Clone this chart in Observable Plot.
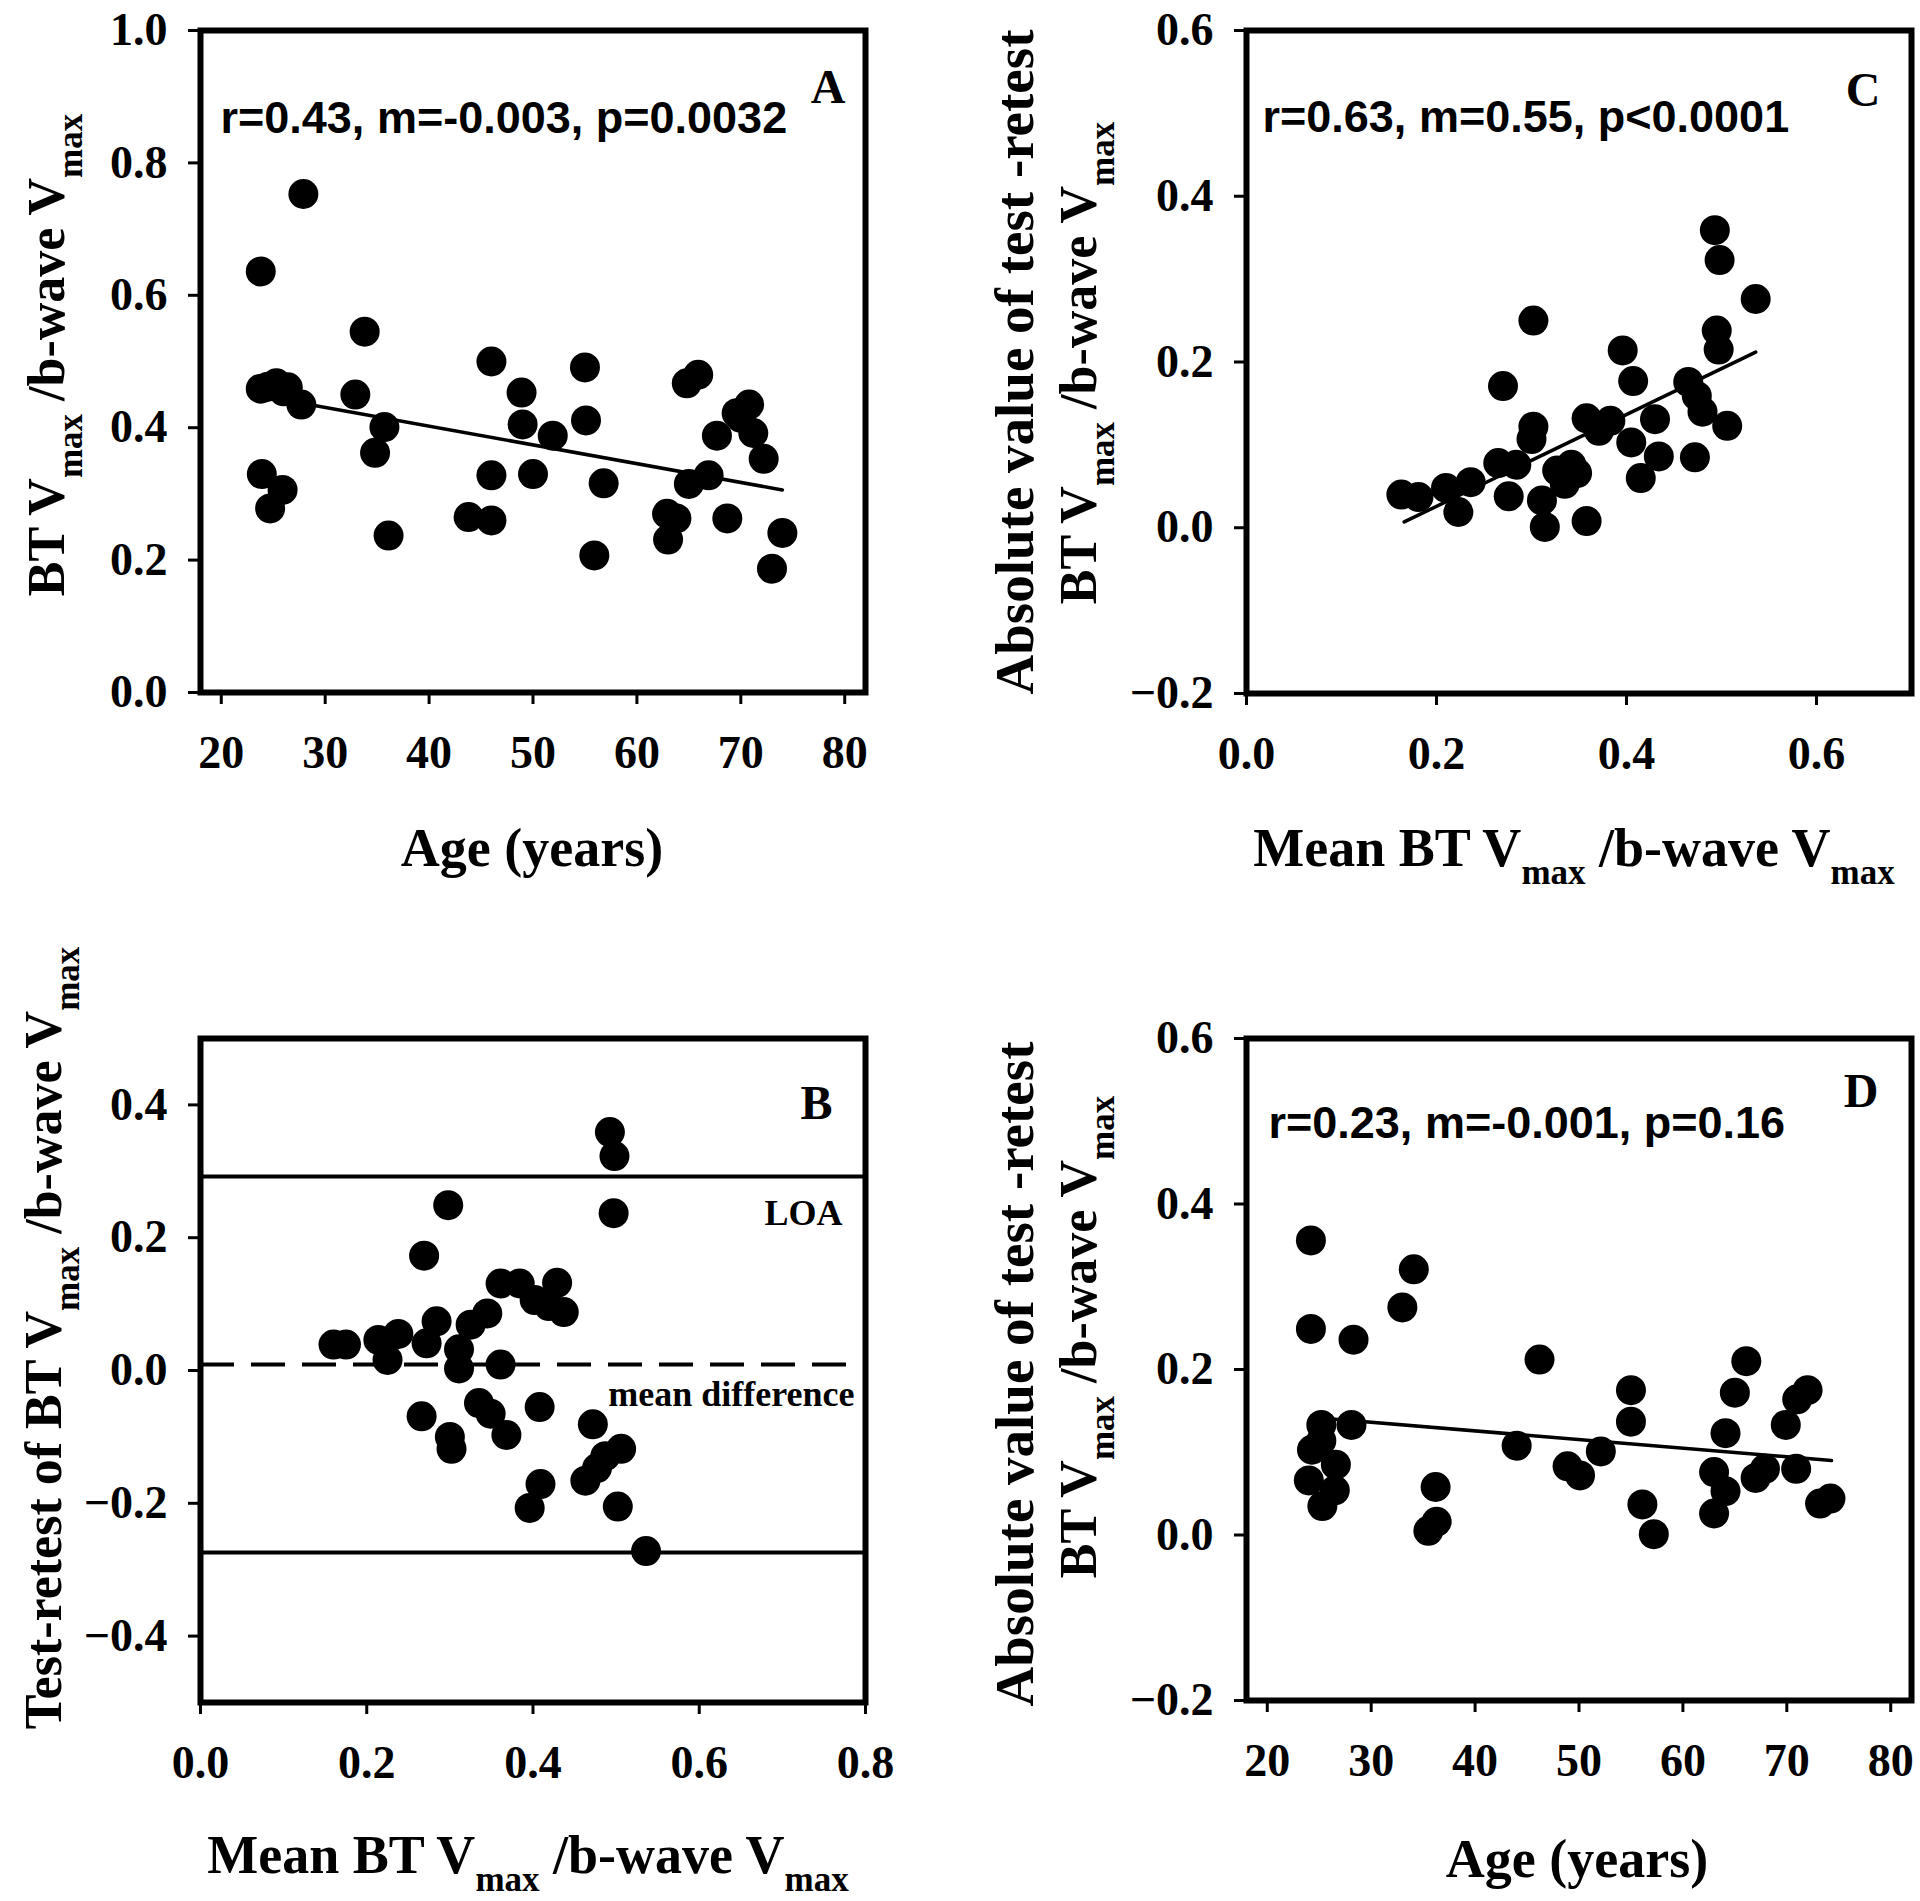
<!DOCTYPE html>
<html>
<head>
<meta charset="utf-8">
<script src="https://cdn.jsdelivr.net/npm/d3@7"></script>
<script src="https://cdn.jsdelivr.net/npm/@observablehq/plot@0.6"></script>
<style>
  html, body { margin: 0; padding: 0; background: #fff; }
  #root { position: relative; width: 1920px; height: 1901px; background: #fff; overflow: hidden; }
  .panel { position: absolute; }
  .panel svg { display: block; max-width: none !important; }
</style>
</head>
<body>
<div id="root"></div>
<script>
// ---------------- Panel A: ratio vs age ----------------
const ageA   = [23.8, 24.5, 27.9, 23.8, 25.3, 26.4, 26.0, 27.7, 23.9, 24.7, 25.9, 32.9, 33.8, 35.7, 34.8, 36.1, 43.8, 46.0, 46.0, 46.0, 48.9, 49.0, 50.0, 51.9, 55.0, 55.1, 55.9, 56.8, 62.9, 63.0, 63.8, 64.8, 65.9, 65.0, 66.9, 67.7, 68.7, 69.6, 70.0, 70.8, 71.2, 72.2, 73.0, 74.0];
const ratioA = [0.636, 0.462, 0.753, 0.459, 0.467, 0.461, 0.455, 0.435, 0.330, 0.278, 0.306, 0.450, 0.545, 0.401, 0.362, 0.237, 0.265, 0.500, 0.328, 0.260, 0.453, 0.405, 0.330, 0.388, 0.491, 0.411, 0.207, 0.316, 0.270, 0.231, 0.263, 0.467, 0.480, 0.315, 0.328, 0.388, 0.263, 0.422, 0.415, 0.435, 0.392, 0.353, 0.187, 0.241];
const fitAx = [23.9, 74.0];
const fitAy = [0.448, 0.306];
const statsA = "r=0.43, m=-0.003, p=0.0032";

// ---------------- Panel C: |test-retest| vs mean ----------------
const meanC = [0.493, 0.498, 0.536, 0.302, 0.495, 0.497, 0.396, 0.270, 0.407, 0.465, 0.474, 0.480, 0.506, 0.472, 0.302, 0.300, 0.358, 0.371, 0.383, 0.430, 0.405, 0.434, 0.415, 0.265, 0.284, 0.276, 0.327, 0.342, 0.335, 0.348, 0.311, 0.314, 0.358, 0.163, 0.181, 0.210, 0.223, 0.236];
const absC  = [0.359, 0.323, 0.276, 0.250, 0.238, 0.215, 0.214, 0.171, 0.177, 0.176, 0.159, 0.140, 0.123, 0.085, 0.122, 0.107, 0.132, 0.117, 0.129, 0.131, 0.103, 0.086, 0.060, 0.078, 0.076, 0.038, 0.069, 0.076, 0.053, 0.066, 0.033, 0.001, 0.008, 0.040, 0.037, 0.048, 0.019, 0.055];
const fitCx = [0.166, 0.536];
const fitCy = [0.007, 0.212];
const statsC = "r=0.63, m=0.55, p<0.0001";

// ---------------- Panel B: Bland-Altman ----------------
const meanB = [0.4925, 0.498, 0.497, 0.298, 0.269, 0.361, 0.384, 0.429, 0.402, 0.419, 0.437, 0.345, 0.325, 0.284, 0.272, 0.238, 0.214, 0.225, 0.175, 0.160, 0.311, 0.311, 0.361, 0.266, 0.300, 0.302, 0.335, 0.349, 0.368, 0.408, 0.396, 0.409, 0.472, 0.463, 0.477, 0.487, 0.506, 0.502, 0.536];
const diffB = [0.359, 0.323, 0.237, 0.249, 0.173, 0.131, 0.131, 0.132, 0.106, 0.097, 0.088, 0.086, 0.069, 0.074, 0.041, 0.055, 0.046, 0.016, 0.039, 0.039, 0.032, 0.003, 0.009, -0.069, -0.100, -0.118, -0.049, -0.065, -0.097, -0.055, -0.207, -0.171, -0.081, -0.166, -0.147, -0.129, -0.118, -0.205, -0.272];
const loaB = [0.292, -0.274];
const meanDiffB = 0.009;
const meanDiffExtent = [0, 0.78];

// ---------------- Panel D: |test-retest| vs age ----------------
const ageD = [24.2, 24.2, 28.3, 33.0, 34.1, 46.2, 25.2, 24.3, 25.2, 28.1, 24.0, 26.6, 26.5, 25.3, 35.5, 36.3, 36.2, 44.0, 48.9, 50.1, 52.1, 55.0, 55.0, 56.1, 57.2, 63.0, 63.0, 64.1, 64.1, 65.0, 66.1, 67.0, 67.9, 69.9, 71.0, 72.0, 70.9, 73.2, 74.2];
const absD = [0.356, 0.249, 0.236, 0.275, 0.321, 0.212, 0.133, 0.103, 0.114, 0.133, 0.066, 0.085, 0.054, 0.035, 0.005, 0.016, 0.058, 0.108, 0.083, 0.072, 0.101, 0.175, 0.137, 0.037, 0.001, 0.076, 0.026, 0.053, 0.123, 0.172, 0.210, 0.069, 0.080, 0.133, 0.164, 0.175, 0.080, 0.038, 0.044];
const fitDx = [24.5, 74.3];
const fitDy = [0.142, 0.090];
const statsD = "r=0.23, m=-0.001, p=0.16";

// tick values
const ticksAge = [20, 30, 40, 50, 60, 70, 80];
const ticksRatioA = [0, 0.2, 0.4, 0.6, 0.8, 1.0];
const ticksMeanC = [0, 0.2, 0.4, 0.6];
const ticksAbs = [-0.2, 0, 0.2, 0.4, 0.6];
const ticksMeanB = [0, 0.2, 0.4, 0.6, 0.8];
const ticksDiffB = [-0.4, -0.2, 0, 0.2, 0.4];

// ---------------- helpers ----------------
const SERIF = "'Liberation Serif', 'Times New Roman', serif";
const SANS = "'Liberation Sans', Arial, sans-serif";
const f1 = d3.format(".1f");
const zip = (xs, ys) => xs.map((x, i) => ({x, y: ys[i]}));

function basePlot({width, height, margin, xDomain, yDomain, xTicks, yTicks, xFormat, marks}) {
  return Plot.plot({
    width, height,
    marginTop: margin[0], marginRight: margin[1], marginBottom: margin[2], marginLeft: margin[3],
    style: {fontFamily: SERIF, fontSize: "46px", fontWeight: "bold", background: "white", color: "black", overflow: "visible"},
    x: {domain: xDomain, ticks: xTicks, tickFormat: xFormat, tickSize: 12, tickPadding: 31, label: null},
    y: {domain: yDomain, ticks: yTicks, tickFormat: f1, tickSize: 12, tickPadding: 21, label: null},
    marks: [...marks, Plot.frame({stroke: "black", strokeWidth: 6})]
  });
}

function styleTicks(svg) {
  d3.select(svg).selectAll('g[aria-label$="axis tick"] path, g[aria-label="x-axis"] line, g[aria-label="y-axis"] line')
    .attr("stroke-width", 3).attr("stroke", "black");
}

// parts: [[text, isSub], ...]
function addTitle(svg, {x, y, rotate = false, size = 54, sub = 35, shift = 17, parts}) {
  const t = d3.select(svg).append("text")
    .attr("transform", `translate(${x},${y})` + (rotate ? " rotate(-90)" : ""))
    .attr("text-anchor", "middle")
    .attr("font-family", SERIF)
    .attr("font-weight", "bold")
    .attr("font-size", size)
    .attr("fill", "black");
  let shifted = false;
  for (const [s, isSub] of parts) {
    const ts = t.append("tspan").text(s).attr("font-size", isSub ? sub : size);
    if (isSub && !shifted) { ts.attr("dy", shift); shifted = true; }
    else if (!isSub && shifted) { ts.attr("dy", -shift); shifted = false; }
  }
}

const ratioParts = [["BT V", false], ["max", true], [" /b-wave V", false], ["max", true]];
const meanParts = [["Mean BT V", false], ["max", true], [" /b-wave V", false], ["max", true]];

function place(svg, left, top) {
  const div = document.createElement("div");
  div.className = "panel";
  div.style.left = left + "px";
  div.style.top = top + "px";
  div.appendChild(svg);
  document.getElementById("root").appendChild(div);
}

const statText = (s, dx, dy) => Plot.text([s], {text: d => d, frameAnchor: "top-left", textAnchor: "start", lineAnchor: "bottom", dx, dy, fontFamily: SANS, fontSize: 45, fontWeight: "bold", fill: "black"});
const letter = (s, dx, dy) => Plot.text([s], {text: d => d, frameAnchor: "top-right", textAnchor: "end", lineAnchor: "bottom", dx, dy, fontFamily: SERIF, fontSize: 48, fontWeight: "bold", fill: "black"});

// ---------------- Panel A ----------------
const svgA = basePlot({
  width: 960, height: 940, margin: [30, 95, 248, 200],
  xDomain: [18, 82], yDomain: [0, 1], xTicks: ticksAge, yTicks: ticksRatioA, xFormat: d3.format("d"),
  marks: [
    Plot.line(zip(fitAx, fitAy), {x: "x", y: "y", stroke: "black", strokeWidth: 3.5}),
    Plot.dot(zip(ageA, ratioA), {x: "x", y: "y", r: 15, fill: "black", stroke: "none"}),
    statText(statsA, 20, 102),
    letter("A", -20, 72)
  ]
});
styleTicks(svgA);
addTitle(svgA, {x: 64, y: 355, rotate: true, size: 52, sub: 35, shift: 18, parts: ratioParts});
addTitle(svgA, {x: 532, y: 866, size: 54, parts: [["Age (years)", false]]});
place(svgA, 0, 0);

// ---------------- Panel C ----------------
const svgC = basePlot({
  width: 960, height: 940, margin: [30, 9, 247, 286],
  xDomain: [0, 0.7], yDomain: [-0.2, 0.6], xTicks: ticksMeanC, yTicks: ticksAbs, xFormat: f1,
  marks: [
    Plot.line(zip(fitCx, fitCy), {x: "x", y: "y", stroke: "black", strokeWidth: 3.5}),
    Plot.dot(zip(meanC, absC), {x: "x", y: "y", r: 15, fill: "black", stroke: "none"}),
    statText(statsC, 16, 101),
    letter("C", -31, 75)
  ]
});
styleTicks(svgC);
addTitle(svgC, {x: 73, y: 362, rotate: true, size: 55, parts: [["Absolute value of test -retest", false]]});
addTitle(svgC, {x: 136, y: 363, rotate: true, size: 52, sub: 35, shift: 18, parts: ratioParts});
addTitle(svgC, {x: 614, y: 866, size: 54, sub: 35, shift: 18, parts: meanParts});
place(svgC, 960, 0);

// ---------------- Panel B ----------------
const svgB = basePlot({
  width: 960, height: 961, margin: [98, 95, 199, 200],
  xDomain: [0, 0.8], yDomain: [-0.5, 0.5], xTicks: ticksMeanB, yTicks: ticksDiffB, xFormat: f1,
  marks: [
    Plot.ruleY(loaB, {stroke: "black", strokeWidth: 4}),
    Plot.ruleY([meanDiffB], {x1: meanDiffExtent[0], x2: meanDiffExtent[1], stroke: "black", strokeWidth: 4, strokeDasharray: "34,17"}),
    Plot.dot(zip(meanB, diffB), {x: "x", y: "y", r: 15, fill: "black", stroke: "none"}),
    Plot.text(["LOA"], {text: d => d, frameAnchor: "top-right", textAnchor: "end", lineAnchor: "bottom", dx: -23, dy: 186, fontFamily: SERIF, fontSize: 36, fontWeight: "bold", fill: "black"}),
    Plot.text(["mean difference"], {text: d => d, frameAnchor: "top-right", textAnchor: "end", lineAnchor: "bottom", dx: -11, dy: 367, fontFamily: SERIF, fontSize: 36, fontWeight: "bold", fill: "black"}),
    letter("B", -33, 80)
  ]
});
styleTicks(svgB);
addTitle(svgB, {x: 61, y: 398, rotate: true, size: 52, sub: 35, shift: 18, parts: [["Test-retest of BT V", false], ["max", true], [" /b-wave V", false], ["max", true]]});
addTitle(svgB, {x: 528, y: 933, size: 54, sub: 35, shift: 18, parts: meanParts});
place(svgB, 0, 940);

// ---------------- Panel D ----------------
const svgD = basePlot({
  width: 960, height: 961, margin: [98, 9, 201, 286],
  xDomain: [18, 82], yDomain: [-0.2, 0.6], xTicks: ticksAge, yTicks: ticksAbs, xFormat: d3.format("d"),
  marks: [
    Plot.line(zip(fitDx, fitDy), {x: "x", y: "y", stroke: "black", strokeWidth: 3.5}),
    Plot.dot(zip(ageD, absD), {x: "x", y: "y", r: 15, fill: "black", stroke: "none"}),
    statText(statsD, 22, 99),
    letter("D", -33, 68)
  ]
});
styleTicks(svgD);
addTitle(svgD, {x: 73, y: 434, rotate: true, size: 55, parts: [["Absolute value of test -retest", false]]});
addTitle(svgD, {x: 136, y: 397, rotate: true, size: 52, sub: 35, shift: 18, parts: ratioParts});
addTitle(svgD, {x: 617, y: 937, size: 54, parts: [["Age (years)", false]]});
place(svgD, 960, 940);
</script>
</body>
</html>
